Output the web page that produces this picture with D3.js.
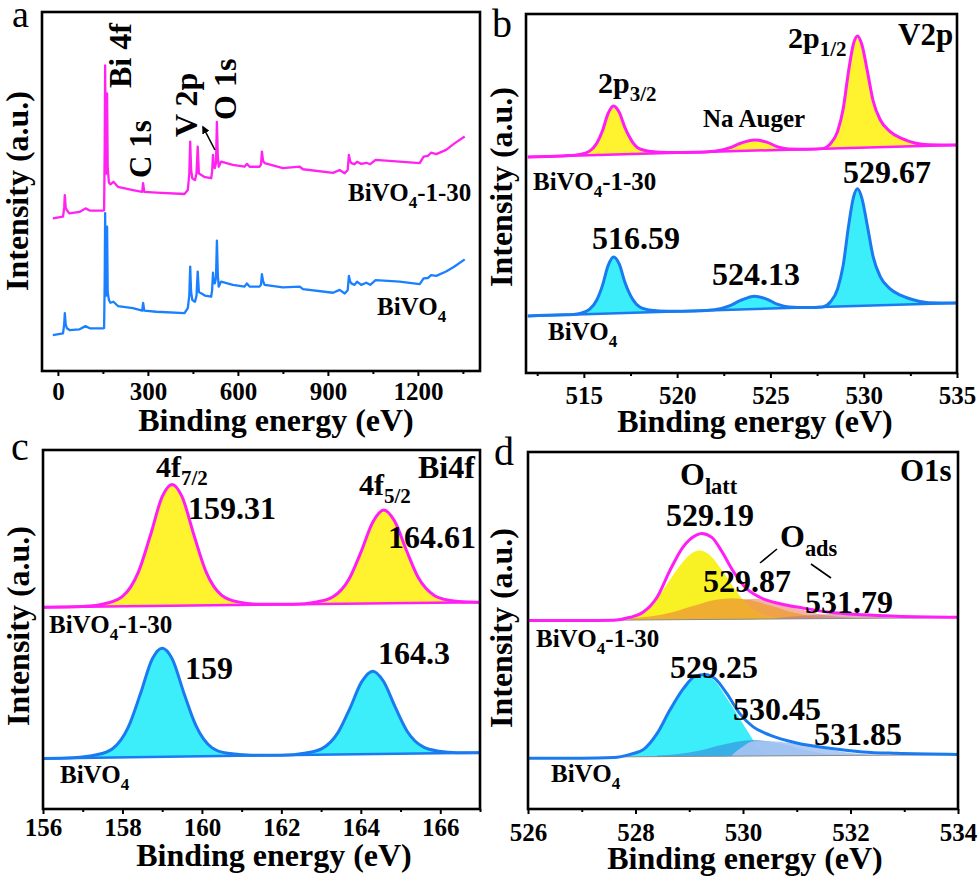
<!DOCTYPE html>
<html>
<head>
<meta charset="utf-8">
<script src="https://cdn.jsdelivr.net/npm/d3@7/dist/d3.min.js"></script>
<style>
  html, body { margin: 0; padding: 0; background: #fff; }
  svg { display: block; }
  .tick text { font-family: 'Liberation Serif', 'Times New Roman', serif; font-weight: bold; font-size: 25px; fill: #000; }
</style>
</head>
<body>
<svg id="chart" width="980" height="883"></svg>
<script>
// ---------------- DATA ----------------
// (a) survey spectrum
const surveyX = [-17, 17, 21, 23, 26, 30, 39, 72, 92, 106, 150, 154, 156, 157.5, 159.5, 162, 164, 166, 170, 175, 185, 200, 250, 281, 284, 288, 328, 422, 433, 438, 441, 444, 448, 457, 462, 466, 470, 490, 511, 514, 517, 520, 523, 527, 530, 533, 536, 544, 583, 622, 630, 639, 672, 677, 680, 684, 689, 750, 806, 817, 917, 939, 956, 966, 970, 974, 978, 989, 997, 1011, 1028, 1041, 1059, 1139, 1206, 1219, 1233, 1244, 1261, 1294, 1322, 1356];
const surveyPink = [42.5, 43.0, 45.5, 49.0, 45.5, 44.8, 43.9, 44.3, 45.3, 44.7, 44.7, 44.8, 62, 85.1, 58, 55, 77.3, 57, 52.5, 52, 52.7, 51.3, 50.4, 49.9, 52.3, 49.9, 49.7, 49.3, 50.4, 55, 63.9, 56, 53.7, 53.2, 55, 62.5, 55, 54, 53.7, 55.5, 60.2, 57, 56.5, 58, 69.4, 60, 56.9, 58.3, 57.4, 56.9, 57.7, 56.9, 56.9, 57.5, 61.1, 58.5, 57.9, 56.5, 56.9, 56.2, 55.2, 56, 55.1, 56, 60.2, 58.5, 57.9, 57.6, 58.3, 57.7, 58.0, 57.6, 58.8, 58.3, 57.9, 59.7, 59.9, 60.8, 60.4, 61.6, 63.4, 65.3];
const surveyBlue = [10.0, 10.5, 13, 16.1, 13, 11.9, 11.4, 11.6, 12.5, 11.9, 11.9, 12.0, 25, 44, 24, 21, 40.2, 22, 19.8, 19, 19.3, 18.1, 17.5, 16.8, 19.0, 16.8, 16.5, 16.1, 17.5, 21, 29.1, 22, 19.8, 19.3, 21, 27.7, 22, 21, 20.7, 22.5, 27.4, 24.5, 24.4, 26, 36.3, 27, 23.5, 24.9, 24.0, 23.5, 24.4, 23.5, 23.5, 24, 27.0, 25, 24.0, 23.3, 23.5, 22.8, 21.8, 22.6, 21.6, 22.5, 26.5, 25, 24.4, 24.0, 24.9, 24.0, 24.6, 24.0, 25.3, 24.9, 24.2, 25.8, 25.9, 26.7, 26.5, 27.7, 29.1, 31.1];
const surveyTicks = [0, 300, 600, 900, 1200];
const surveyMinor = [150, 450, 750, 1050, 1350];

// (b) V2p
const v2pX = [512, 513, 514, 514.8, 515.3, 515.7, 516.0, 516.3, 516.59, 516.9, 517.2, 517.6, 518.0, 518.6, 519.5, 521, 522, 522.8, 523.4, 524.15, 524.8, 525.4, 526, 527, 527.8, 528.2, 528.6, 528.9, 529.2, 529.45, 529.67, 529.9, 530.2, 530.5, 530.9, 531.4, 532, 532.8, 533.5, 535];
const v2pPink = [60.2, 60.3, 60.5, 60.9, 61.8, 64.1, 67.5, 72.3, 74.4, 72.6, 68.4, 64.4, 62.4, 61.7, 61.4, 61.5, 61.8, 62.7, 64.0, 64.9, 64.3, 63.0, 62.4, 62.35, 62.5, 63.8, 67.3, 73.6, 84.5, 91.7, 93.9, 91.5, 84.0, 75.9, 70.4, 67.3, 65.4, 64.0, 63.6, 63.5];
const v2pBlue = [15.9, 16.1, 16.2, 16.6, 17.7, 20.4, 24.4, 29.9, 32.3, 30.3, 25.3, 20.7, 18.4, 17.5, 17.2, 17.3, 17.6, 18.7, 20.2, 21.4, 20.6, 19.1, 18.4, 18.25, 18.4, 19.7, 23.4, 30.0, 41.4, 48.9, 51.3, 48.7, 40.9, 32.5, 26.7, 23.5, 21.6, 20.2, 19.6, 19.5];
const v2pBaseX = [512, 535];
const v2pPinkBase = [60.2, 63.5];
const v2pBlueBase = [15.9, 19.5];
const v2pTicks = [515, 520, 525, 530, 535];
const v2pMinor = [512.5, 517.5, 522.5, 527.5, 532.5];

// (c) Bi4f
const bi4fPinkX = [156, 157, 157.6, 158.0, 158.4, 158.7, 159.0, 159.25, 159.5, 159.8, 160.1, 160.5, 160.9, 161.5, 162.3, 162.9, 163.3, 163.7, 164.0, 164.3, 164.58, 164.85, 165.15, 165.45, 165.85, 166.25, 166.7, 167];
const bi4fPinkY = [56.2, 56.4, 57.3, 59.2, 66.0, 76.1, 87.0, 90.4, 87.0, 76.3, 66.2, 59.5, 57.7, 57.0, 57.0, 57.7, 59.1, 64.0, 71.5, 79.9, 83.3, 80.2, 72.0, 64.4, 59.5, 58.1, 57.65, 57.6];
const bi4fBlueX = [156, 156.75, 157.35, 157.75, 158.15, 158.45, 158.75, 159.0, 159.25, 159.55, 159.85, 160.25, 160.65, 161.25, 162.0, 162.62, 163.02, 163.42, 163.72, 164.02, 164.3, 164.57, 164.87, 165.17, 165.57, 165.97, 166.42, 167];
const bi4fBlueY = [14.1, 14.3, 15.1, 16.8, 22.9, 32.0, 41.8, 44.8, 41.9, 32.2, 23.2, 17.1, 15.5, 15.0, 14.97, 15.6, 16.8, 21.2, 27.9, 35.4, 38.4, 35.6, 28.3, 21.6, 17.3, 16.1, 15.7, 15.7];
const bi4fBaseX = [156, 167];
const bi4fPinkBase = [56.2, 57.6];
const bi4fBlueBase = [14.1, 15.7];
const bi4fTicks = [156, 158, 160, 162, 164, 166];
const bi4fMinor = [157, 159, 161, 163, 165, 167];

// (d) O1s
const o1sPinkX = [526, 527, 527.6, 527.9, 528.14, 528.40, 528.64, 528.88, 529.14, 529.23, 529.42, 529.60, 529.81, 530.04, 530.31, 530.69, 531.11, 531.61, 532.23, 532.85, 534];
const o1sPinkY = [52.8, 52.8, 52.9, 53.7, 55.1, 59.3, 66.8, 73.3, 76.8, 77.2, 76.1, 72.3, 66.8, 62.1, 59.3, 57.5, 56.3, 55.1, 54.4, 54.0, 53.7];
const o1sPinkBaseX = [527.6, 534];
const o1sPinkBaseY = [52.9, 53.6];
const lattPinkX = [527.8, 528.1, 528.4, 528.64, 528.88, 529.0, 529.19, 529.4, 529.6, 529.8, 530.0, 530.2, 530.45, 530.8];
const lattPinkY = [53.2, 55.2, 59.0, 64.2, 69.2, 71.1, 72.4, 70.9, 67.0, 62.6, 58.6, 55.9, 54.2, 53.4];
const adsAPinkX = [527.9, 528.3, 528.7, 529.1, 529.5, 529.8, 530.1, 530.5, 530.9, 531.3, 531.7, 532.1];
const adsAPinkY = [53.45, 54.0, 55.2, 57.0, 58.6, 59.0, 58.6, 57.0, 55.2, 54.0, 53.5, 53.4];
const adsBPinkX = [529.3, 529.6, 529.9, 530.2, 530.5, 530.8, 531.1, 531.4, 531.8, 532.3];
const adsBPinkY = [53.6, 55.5, 58.0, 58.9, 58.3, 57.0, 55.8, 54.6, 53.8, 53.4];
const adsCPinkX = [530.6, 531.1, 531.7, 532.3, 532.8, 533.3];
const adsCPinkY = [53.45, 54.1, 54.6, 54.1, 53.6, 53.4];

const o1sBlueX = [526, 527, 527.6, 527.9, 528.15, 528.40, 528.64, 528.89, 529.11, 529.29, 529.48, 529.70, 529.94, 530.19, 530.50, 531.00, 531.61, 532.23, 532.85, 534];
const o1sBlueY = [14.2, 14.2, 14.4, 15.3, 16.7, 21.1, 27.7, 33.7, 37.2, 37.7, 36.5, 32.3, 26.7, 23.0, 20.7, 18.5, 17.0, 16.0, 15.6, 15.3];
const o1sBlueBaseX = [527.6, 534];
const o1sBlueBaseY = [14.6, 15.2];
const lattBlueX = [527.7, 527.9, 528.15, 528.40, 528.64, 528.89, 529.11, 529.29, 529.48, 529.70, 529.94, 530.13, 530.28, 530.4, 530.6];
const lattBlueY = [14.6, 15.3, 16.6, 20.8, 27.3, 33.3, 36.8, 37.3, 35.8, 31.0, 25.3, 20.7, 17.2, 15.4, 14.95];
const adsABlueX = [528.4, 528.8, 529.2, 529.6, 529.9, 530.2, 530.5, 530.8, 531.2, 531.6, 532.0];
const adsABlueY = [15.0, 15.4, 16.4, 17.9, 18.9, 19.3, 18.9, 17.9, 16.4, 15.4, 15.0];
const adsBBlueX = [529.8, 530.0, 530.19, 530.5, 530.87, 531.18, 531.49, 531.86, 532.23, 532.6];
const adsBBlueY = [15.2, 17.5, 19.0, 19.0, 18.5, 17.9, 17.0, 16.0, 15.4, 15.05];
const o1sTicks = [526, 528, 530, 532, 534];
const o1sMinor = [527, 529, 531, 533];

// ---------------- STYLE ----------------
const FONT = "'Liberation Serif', 'Times New Roman', serif";
const PINK = "#FF1EF5", BLUE = "#1A7BF0";
const YELLOW = "#FFF22E", CYAN = "#3CEEFA";

const svg = d3.select("#chart");
svg.append("rect").attr("width", 980).attr("height", 883).attr("fill", "#fff");
const defs = svg.append("defs");

const zip = (xs, ys) => xs.map((x, i) => [x, ys[i]]);

function makePanel(cfg) {
  const g = svg.append("g");
  const x = d3.scaleLinear().domain(cfg.domain).range([cfg.left, cfg.right]);
  const y = d3.scaleLinear().domain([0, 100]).range([cfg.bottom, cfg.top]);
  const clipId = "clip-" + cfg.name;
  defs.append("clipPath").attr("id", clipId).append("rect")
    .attr("x", cfg.left).attr("y", cfg.top)
    .attr("width", cfg.right - cfg.left).attr("height", cfg.bottom - cfg.top);
  const plot = g.append("g").attr("clip-path", `url(#${clipId})`);
  return { g, plot, x, y, cfg };
}

function finishPanel(p) {
  const { g, x, cfg } = p;
  const minor = g.append("g").attr("transform", `translate(0,${cfg.bottom})`)
    .call(d3.axisBottom(x).tickValues(cfg.minor).tickSize(3).tickFormat(""));
  minor.select(".domain").remove();
  minor.selectAll("line").attr("stroke", "#000").attr("stroke-width", 2);
  const ax = g.append("g").attr("transform", `translate(0,${cfg.bottom})`)
    .call(d3.axisBottom(x).tickValues(cfg.ticks).tickSize(5).tickPadding(cfg.pad).tickFormat(d3.format("d")));
  ax.attr("font-family", FONT).attr("font-size", 25).attr("font-weight", "bold");
  ax.select(".domain").remove();
  ax.selectAll("line").attr("stroke", "#000").attr("stroke-width", 2);
  ax.selectAll("text")
    .style("font-family", FONT).style("font-weight", "bold")
    .style("font-size", "25px").style("fill", "#000");
  g.append("rect").attr("x", cfg.left).attr("y", cfg.top)
    .attr("width", cfg.right - cfg.left).attr("height", cfg.bottom - cfg.top)
    .attr("fill", "none").attr("stroke", "#000").attr("stroke-width", 2.6);
  g.append("text").attr("x", cfg.titleX).attr("y", cfg.titleY)
    .attr("text-anchor", "middle").attr("font-family", FONT).attr("font-weight", "bold")
    .attr("font-size", 32).text("Binding energy (eV)");
  g.append("text").attr("transform", `translate(${cfg.ytX},${cfg.ytY}) rotate(-90)`)
    .attr("text-anchor", "middle").attr("font-family", FONT).attr("font-weight", "bold")
    .attr("font-size", 32).text("Intensity (a.u.)");
  g.append("text").attr("x", cfg.letterX).attr("y", cfg.letterY)
    .attr("font-family", FONT).attr("font-size", cfg.letterSize).text(cfg.name);
}

function rich(g, x, y, parts, size, rotate) {
  const t = g.append("text").attr("font-family", FONT).attr("font-weight", "bold")
    .attr("font-size", size);
  if (rotate) t.attr("transform", `translate(${x},${y}) rotate(-90)`);
  else t.attr("x", x).attr("y", y);
  let shifted = false;
  parts.forEach(pt => {
    const txt = Array.isArray(pt) ? pt[0] : pt;
    const sub = Array.isArray(pt) && pt[1] === "sub";
    const ts = t.append("tspan").text(txt);
    if (sub) {
      ts.attr("font-size", size * (pt[2] || 0.68)).attr("dy", size * 0.28);
      shifted = true;
    } else if (shifted) {
      ts.attr("dy", -size * 0.28);
      shifted = false;
    }
  });
  return t;
}

function drawLine(p, data, color, width, curve) {
  p.plot.append("path").datum(data)
    .attr("fill", "none").attr("stroke", color).attr("stroke-width", width)
    .attr("stroke-linejoin", "round")
    .attr("d", d3.line().x(d => p.x(d[0])).y(d => p.y(d[1])).curve(curve || d3.curveMonotoneX));
}

function drawFill(p, data, baseScale, color, opacity) {
  p.plot.append("path").datum(data)
    .attr("fill", color).attr("fill-opacity", opacity == null ? 1 : opacity).attr("stroke", "none")
    .attr("d", d3.area().x(d => p.x(d[0])).y0(d => p.y(baseScale(d[0]))).y1(d => p.y(d[1]))
      .curve(d3.curveMonotoneX));
}

// ---------------- PANEL A ----------------
{
  const p = makePanel({ name: "a", domain: [-53, 1407], left: 42, right: 480, top: 12, bottom: 371 });
  Object.assign(p.cfg, { ticks: surveyTicks, minor: surveyMinor, pad: 6, titleX: 276, titleY: 431,
    ytX: 28, ytY: 191, letterX: 12, letterY: 27, letterSize: 38 });
  drawLine(p, zip(surveyX, surveyPink), "#FF22F0", 2.3, d3.curveLinear);
  drawLine(p, zip(surveyX, surveyBlue), "#1A80FF", 2.3, d3.curveLinear);
  finishPanel(p);
  const g = p.g;
  rich(g, 131, 88, ["Bi 4f"], 32, true);
  rich(g, 151, 178, ["C 1s"], 31, true);
  rich(g, 197, 137, ["V 2p"], 32, true);
  rich(g, 236, 120, ["O 1s"], 32, true);
  defs.append("marker").attr("id", "arrow").attr("viewBox", "0 0 10 10")
    .attr("refX", 8).attr("refY", 5).attr("markerWidth", 5).attr("markerHeight", 5)
    .attr("orient", "auto").append("path").attr("d", "M0,0 L10,5 L0,10 z").attr("fill", "#000");
  g.append("line").attr("x1", 215).attr("y1", 150).attr("x2", 203).attr("y2", 127)
    .attr("stroke", "#000").attr("stroke-width", 1.6).attr("marker-end", "url(#arrow)");
  rich(g, 348, 201, ["BiVO", ["4", "sub"], "-1-30"], 25);
  rich(g, 377, 315, ["BiVO", ["4", "sub"]], 25);
}

// ---------------- PANEL B ----------------
{
  const p = makePanel({ name: "b", domain: [511.9, 535], left: 526, right: 957, top: 14, bottom: 373 });
  Object.assign(p.cfg, { ticks: v2pTicks, minor: v2pMinor, pad: 8, titleX: 755, titleY: 432,
    ytX: 512, ytY: 187, letterX: 492, letterY: 37, letterSize: 40 });
  const pinkBase = d3.scaleLinear().domain(v2pBaseX).range(v2pPinkBase);
  const blueBase = d3.scaleLinear().domain(v2pBaseX).range(v2pBlueBase);
  drawFill(p, zip(v2pX, v2pPink), pinkBase, YELLOW);
  drawFill(p, zip(v2pX, v2pBlue), blueBase, CYAN);
  drawLine(p, zip(v2pBaseX, v2pPinkBase), PINK, 2.5, d3.curveLinear);
  drawLine(p, zip(v2pBaseX, v2pBlueBase), BLUE, 2.5, d3.curveLinear);
  drawLine(p, zip(v2pX, v2pPink), PINK, 3);
  drawLine(p, zip(v2pX, v2pBlue), BLUE, 3);
  finishPanel(p);
  const g = p.g;
  rich(g, 598, 93, ["2p", ["3/2", "sub", 0.7]], 30);
  rich(g, 703, 127, ["Na Auger"], 25);
  rich(g, 788, 48, ["2p", ["1/2", "sub", 0.7]], 30);
  rich(g, 898, 45, ["V2p"], 31);
  rich(g, 533, 190, ["BiVO", ["4", "sub"], "-1-30"], 25);
  rich(g, 548, 340, ["BiVO", ["4", "sub"]], 25);
  rich(g, 592, 249, ["516.59"], 32);
  rich(g, 712, 285, ["524.13"], 32);
  rich(g, 843, 183, ["529.67"], 32);
}

// ---------------- PANEL C ----------------
{
  const p = makePanel({ name: "c", domain: [156, 167], left: 43, right: 480, top: 450, bottom: 809 });
  Object.assign(p.cfg, { ticks: bi4fTicks, minor: bi4fMinor, pad: 4, titleX: 274, titleY: 866,
    ytX: 29, ytY: 626, letterX: 11, letterY: 460, letterSize: 40 });
  const pinkBase = d3.scaleLinear().domain(bi4fBaseX).range(bi4fPinkBase);
  const blueBase = d3.scaleLinear().domain(bi4fBaseX).range(bi4fBlueBase);
  drawFill(p, zip(bi4fPinkX, bi4fPinkY), pinkBase, YELLOW);
  drawFill(p, zip(bi4fBlueX, bi4fBlueY), blueBase, CYAN);
  drawLine(p, zip(bi4fBaseX, bi4fPinkBase), PINK, 2.5, d3.curveLinear);
  drawLine(p, zip(bi4fBaseX, bi4fBlueBase), BLUE, 2.5, d3.curveLinear);
  drawLine(p, zip(bi4fPinkX, bi4fPinkY), PINK, 3);
  drawLine(p, zip(bi4fBlueX, bi4fBlueY), BLUE, 3);
  finishPanel(p);
  const g = p.g;
  rich(g, 156, 477, ["4f", ["7/2", "sub", 0.7]], 30);
  rich(g, 188, 519, ["159.31"], 32);
  rich(g, 359, 495, ["4f", ["5/2", "sub", 0.7]], 30);
  rich(g, 388, 548, ["164.61"], 32);
  rich(g, 418, 478, ["Bi4f"], 32);
  rich(g, 49, 633, ["BiVO", ["4", "sub"], "-1-30"], 25);
  rich(g, 185, 679, ["159"], 32);
  rich(g, 378, 664, ["164.3"], 32);
  rich(g, 60, 783, ["BiVO", ["4", "sub"]], 25);
}

// ---------------- PANEL D ----------------
{
  const p = makePanel({ name: "d", domain: [526, 534], left: 528, right: 958, top: 452, bottom: 809 });
  Object.assign(p.cfg, { ticks: o1sTicks, minor: o1sMinor, pad: 9, titleX: 745, titleY: 869,
    ytX: 512, ytY: 628, letterX: 494, letterY: 465, letterSize: 40 });
  const pinkBase = d3.scaleLinear().domain(o1sPinkBaseX).range(o1sPinkBaseY);
  const blueBase = d3.scaleLinear().domain(o1sBlueBaseX).range(o1sBlueBaseY);
  drawFill(p, zip(adsBPinkX, adsBPinkY), pinkBase, "#F4B3A6");
  drawFill(p, zip(lattPinkX, lattPinkY), pinkBase, "#F8F224");
  drawFill(p, zip(adsAPinkX, adsAPinkY), pinkBase, "#EE9F35", 0.82);
  drawFill(p, zip(adsCPinkX, adsCPinkY), pinkBase, "#C27A80", 0.6);
  drawLine(p, zip(o1sPinkBaseX, o1sPinkBaseY), "#8a8a8a", 1, d3.curveLinear);
  drawLine(p, zip(o1sPinkX, o1sPinkY), PINK, 3);
  drawFill(p, zip(lattBlueX, lattBlueY), blueBase, CYAN);
  drawFill(p, zip(adsABlueX, adsABlueY), blueBase, "#3596E0", 0.7);
  drawFill(p, zip(adsBBlueX, adsBBlueY), blueBase, "#A6C4F2", 0.9);
  drawLine(p, zip(o1sBlueBaseX, o1sBlueBaseY), "#8a8a8a", 1, d3.curveLinear);
  drawLine(p, zip(o1sBlueX, o1sBlueY), BLUE, 3);
  finishPanel(p);
  const g = p.g;
  rich(g, 680, 485, ["O", ["latt", "sub", 0.7]], 32);
  rich(g, 666, 526, ["529.19"], 32);
  rich(g, 780, 547, ["O", ["ads", "sub", 0.7]], 32);
  g.append("line").attr("x1", 760).attr("y1", 563).attr("x2", 777).attr("y2", 549)
    .attr("stroke", "#000").attr("stroke-width", 1.6);
  g.append("line").attr("x1", 811).attr("y1", 564).attr("x2", 831).attr("y2", 578)
    .attr("stroke", "#000").attr("stroke-width", 1.6);
  rich(g, 703, 592, ["529.87"], 32);
  rich(g, 805, 613, ["531.79"], 32);
  rich(g, 900, 481, ["O1s"], 31);
  rich(g, 536, 647, ["BiVO", ["4", "sub"], "-1-30"], 25);
  rich(g, 670, 678, ["529.25"], 32);
  rich(g, 733, 720, ["530.45"], 32);
  rich(g, 814, 745, ["531.85"], 32);
  rich(g, 551, 782, ["BiVO", ["4", "sub"]], 25);
}
</script>
</body>
</html>
